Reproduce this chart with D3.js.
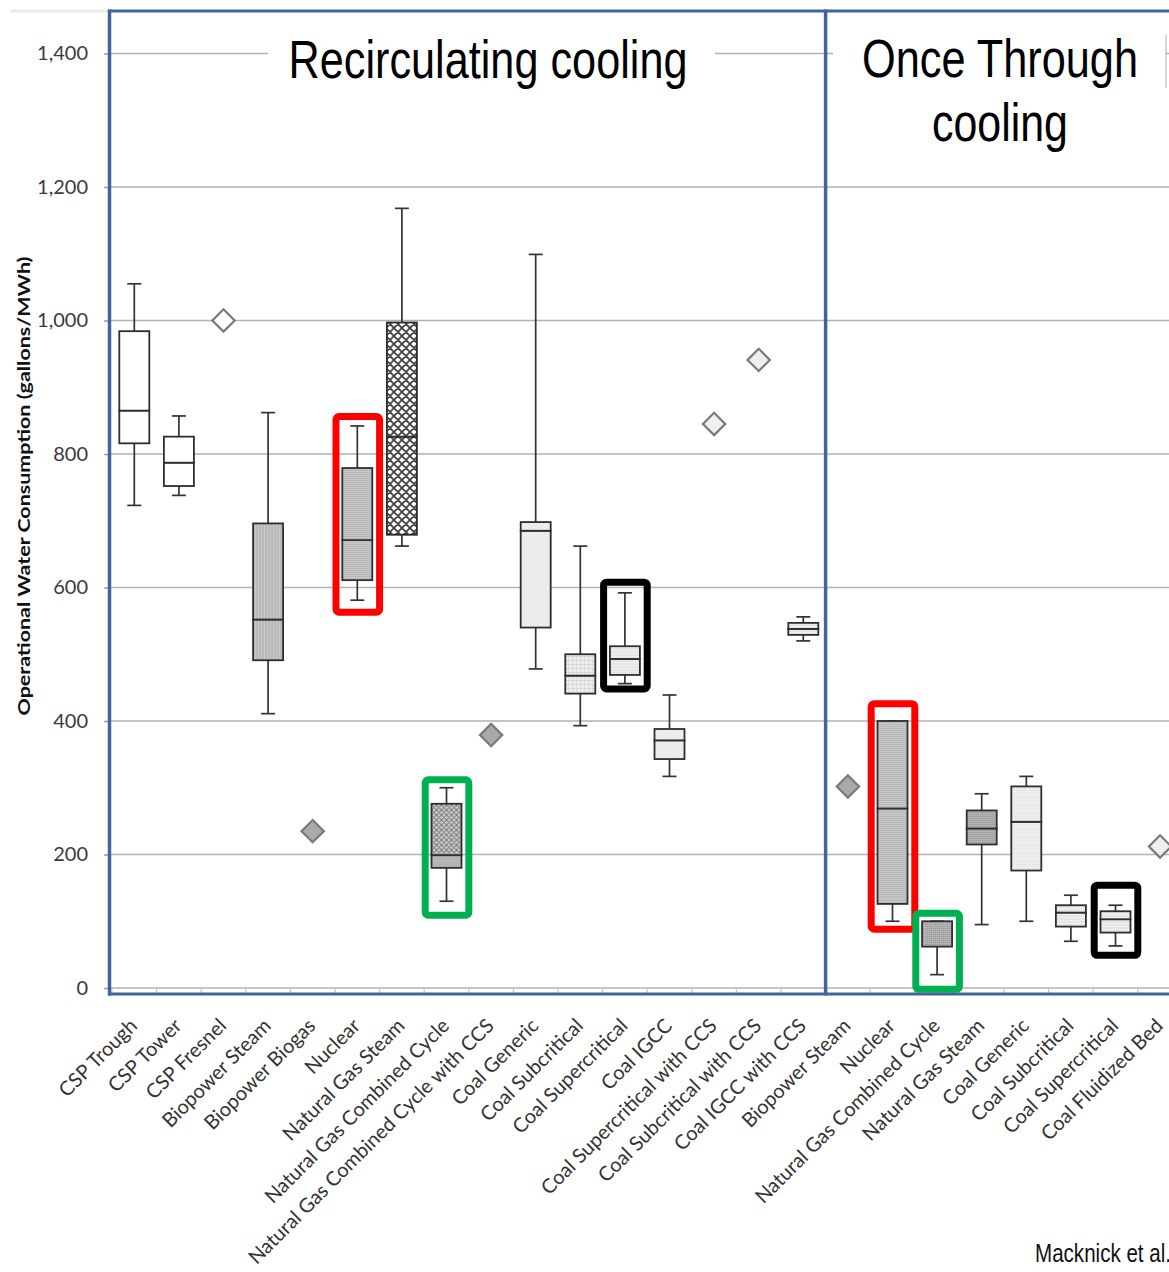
<!DOCTYPE html>
<html>
<head>
<meta charset="utf-8">
<script src="https://cdn.jsdelivr.net/npm/d3@7"></script>
<style>
body { margin: 0; background: #fff; }
svg { display: block; }
</style>
</head>
<body>
<svg id="chart" width="1169" height="1272"></svg>
<script>
// categories, left 16 are recirculating, right 8 once-through
var labels = ['CSP Trough', 'CSP Tower', 'CSP Fresnel', 'Biopower Steam', 'Biopower Biogas', 'Nuclear',
  'Natural Gas Steam', 'Natural Gas Combined Cycle', 'Natural Gas Combined Cycle with CCS', 'Coal Generic',
  'Coal Subcritical', 'Coal Supercritical', 'Coal IGCC', 'Coal Supercritical with CCS', 'Coal Subcritical with CCS',
  'Coal IGCC with CCS',
  'Biopower Steam', 'Nuclear', 'Natural Gas Combined Cycle', 'Natural Gas Steam', 'Coal Generic',
  'Coal Subcritical', 'Coal Supercritical', 'Coal Fluidized Bed'];
var recircCount = 16;

// box stats (gallons/MWh), null where only a single point is reported
var lowVals  = [723, 738, null, 411, null, 581, 662, 130, null, 478, 393, 456, 317, null, null, 520,  null, 100, 20, 95, 100, 70, 63, null];
var q1Vals   = [816, 752, null, 491, null, 611, 679, 180, null, 540, 441, 469, 343, null, null, 529,  null, 126, 62, 215, 176, 92, 83, null];
var medVals  = [865, 787, null, 552, null, 671, 826, 199, null, 685, 468, 493, 371, null, null, 538,  null, 269, 100, 239, 249, 113, 103, null];
var q3Vals   = [984, 826, null, 696, null, 779, 997, 276, null, 698, 500, 512, 388, null, null, 547,  null, 400, 100, 266, 302, 124, 115, null];
var highVals = [1055, 857, null, 862, null, 842, 1168, 300, null, 1099, 662, 592, 439, null, null, 556, null, 400, 100, 291, 317, 139, 124, null];
var pointVals = [null, null, 1000, null, 235, null, null, null, 379, null, null, null, null, 845, 941, null, 302, null, null, null, null, null, null, 212];

var yTicks = [0, 200, 400, 600, 800, 1000, 1200, 1400];

// highlighted categories: index, value range
var highlights = [
  {i: 5, lo: 563, hi: 856, color: '#ff0000'},
  {i: 7, lo: 109, hi: 312, color: '#00b050'},
  {i: 11, lo: 448, hi: 608, color: '#000000'},
  {i: 17, lo: 88, hi: 426, color: '#ff0000'},
  {i: 18, lo: -2, hi: 112, color: '#00b050'},
  {i: 22, lo: 49, hi: 154, color: '#000000'}
];

// fills (lower half, upper half) by pattern id
var lowerFill = ['white', 'white', 'white', 'vstripe', 'grey', 'dots', 'lattice', 'greySolid', 'grey', 'lightV', 'lightGrid', 'lightH', 'lightV', 'light', 'light', 'lightH',
  'grey', 'dots', 'greyDots', 'greyDots', 'lightDots', 'lightH', 'lightH', 'light'];
var upperFill = ['white', 'white', 'white', 'vstripe', 'grey', 'dots', 'lattice', 'smallLattice', 'grey', 'lightV', 'lightGrid', 'lightH', 'lightV', 'light', 'light', 'lightH',
  'grey', 'dots', 'greyDots', 'greyDots', 'lightDots', 'lightH', 'lightH', 'light'];

var svg = d3.select('#chart');
var blue = '#41659a';

var step = 44.6;
var x = d3.scaleBand().domain(d3.range(labels.length)).range([112, 112 + step * labels.length]);
var y = d3.scaleLinear().domain([0, 1400]).range([988, 53.5]);
var bw = x.bandwidth();

// patterns
var defs = svg.append('defs');
function pat(id, w, h, bg) {
  var p = defs.append('pattern').attr('id', id).attr('patternUnits', 'userSpaceOnUse').attr('width', w).attr('height', h);
  p.append('rect').attr('width', w).attr('height', h).attr('fill', bg);
  return p;
}
pat('white', 4, 4, '#ffffff');
pat('grey', 4, 4, '#a9a9a9');
pat('light', 4, 4, '#efefef');
var p = pat('vstripe', 3, 6, '#cacaca');
p.append('line').attr('x1', 1).attr('x2', 1).attr('y1', 0).attr('y2', 6).attr('stroke', '#9c9c9c').attr('stroke-width', 0.8);
p = pat('dots', 2, 2, '#c9c9c9');
p.append('rect').attr('width', 1).attr('height', 1).attr('fill', '#a4a4a4');
p = pat('greyDots', 2, 2, '#b3b3b3');
p.append('rect').attr('width', 1).attr('height', 1).attr('fill', '#969696');
p = pat('lightDots', 2, 2, '#f0f0f0');
p.append('rect').attr('width', 1).attr('height', 1).attr('fill', '#dcdcdc');
pat('greySolid', 4, 4, '#b5b5b5');
p = pat('lattice', 8, 8, '#ffffff');
p.append('path').attr('d', 'M0,0L8,8M8,0L0,8M-1,7L1,9M7,-1L9,1').attr('stroke', '#3d3d3d').attr('stroke-width', 1.7);
p = pat('smallLattice', 5, 5, '#c4c4c4');
p.append('path').attr('d', 'M0,0L5,5M5,0L0,5').attr('stroke', '#6d6d6d').attr('stroke-width', 0.9);
p = pat('lightV', 3, 6, '#f1f1f1');
p.append('line').attr('x1', 1).attr('x2', 1).attr('y1', 0).attr('y2', 6).attr('stroke', '#dedede').attr('stroke-width', 0.8);
p = pat('lightGrid', 4, 4, '#efefef');
p.append('path').attr('d', 'M0,0.5H4M0.5,0V4').attr('stroke', '#d3d3d3').attr('stroke-width', 0.8);
p = pat('lightH', 6, 3, '#f0f0f0');
p.append('line').attr('x1', 0).attr('x2', 6).attr('y1', 1).attr('y2', 1).attr('stroke', '#d6d6d6').attr('stroke-width', 0.8);

// faint edge at top left of the picture
svg.append('line').attr('x1', 10).attr('x2', 108).attr('y1', 11).attr('y2', 11).attr('stroke', '#ececec').attr('stroke-width', 3);

// gridlines
svg.append('g').selectAll('line').data(yTicks).join('line')
  .attr('x1', 110).attr('x2', 1169)
  .attr('y1', function (d) { return y(d); }).attr('y2', function (d) { return y(d); })
  .attr('stroke', '#b2b2b2').attr('stroke-width', 1.5);

// y axis
var yAxis = svg.append('g').attr('transform', 'translate(110,0)')
  .call(d3.axisLeft(y).tickValues(yTicks).tickFormat(d3.format(',')).tickSize(6).tickPadding(16));
yAxis.select('.domain').remove();
yAxis.selectAll('.tick line').attr('stroke', '#9a9a9a').attr('stroke-width', 1.5);
yAxis.selectAll('.tick text').attr('font-family', 'Lato, sans-serif').attr('font-size', 20).attr('fill', '#3a3a3a');

svg.append('text')
  .attr('transform', 'translate(30,' + 486 + ') rotate(-90)')
  .attr('text-anchor', 'middle')
  .attr('font-family', 'Lato, sans-serif').attr('font-weight', 'bold').attr('font-size', 17)
  .attr('textLength', 459).attr('lengthAdjust', 'spacingAndGlyphs')
  .attr('fill', '#111')
  .text('Operational Water Consumption (gallons/MWh)');

// small ticks along the bottom between 0 line and axis
svg.append('g').selectAll('line').data(d3.range(labels.length + 1)).join('line')
  .attr('x1', function (d) { return 112 + d * step; }).attr('x2', function (d) { return 112 + d * step; })
  .attr('y1', y(0)).attr('y2', 994)
  .attr('stroke', '#c4c4c4').attr('stroke-width', 1.2);

// section titles on white boxes
svg.append('rect').attr('x', 268).attr('y', 24).attr('width', 447).attr('height', 80).attr('fill', '#fff');
svg.append('rect').attr('x', 833).attr('y', 24).attr('width', 332).attr('height', 140).attr('fill', '#fff');
svg.append('line').attr('x1', 1166).attr('x2', 1166).attr('y1', 35).attr('y2', 88).attr('stroke', '#c8c8c8').attr('stroke-width', 1.5);

// condensed look: squeeze a regular sans to the narrow widths
var sans = '"Liberation Sans", Arial, sans-serif';
function title(t, cx, by, len) {
  svg.append('text').attr('x', cx).attr('y', by).attr('text-anchor', 'middle')
    .attr('font-family', sans).attr('font-size', 53).attr('fill', '#000')
    .attr('textLength', len).attr('lengthAdjust', 'spacingAndGlyphs')
    .text(t);
}
title('Recirculating cooling', 488, 78, 399);
title('Once Through', 1000, 77, 276);
title('cooling', 1000, 141, 136);

// box plots
var idx = d3.range(labels.length).filter(function (i) { return q1Vals[i] != null; });
var boxW = 30, capW = 14;
var boxes = svg.append('g').selectAll('g').data(idx).join('g')
  .attr('transform', function (i) { return 'translate(' + (x(i) + bw / 2) + ',0)'; });

boxes.append('line').attr('y1', function (i) { return y(highVals[i]); }).attr('y2', function (i) { return y(q3Vals[i]); })
  .attr('stroke', '#333').attr('stroke-width', 1.7);
boxes.append('line').attr('y1', function (i) { return y(q1Vals[i]); }).attr('y2', function (i) { return y(lowVals[i]); })
  .attr('stroke', '#333').attr('stroke-width', 1.7);
boxes.append('line').attr('x1', -capW / 2).attr('x2', capW / 2)
  .attr('y1', function (i) { return y(highVals[i]); }).attr('y2', function (i) { return y(highVals[i]); })
  .attr('stroke', '#333').attr('stroke-width', 1.7);
boxes.append('line').attr('x1', -capW / 2).attr('x2', capW / 2)
  .attr('y1', function (i) { return y(lowVals[i]); }).attr('y2', function (i) { return y(lowVals[i]); })
  .attr('stroke', '#333').attr('stroke-width', 1.7);
// lower half q1 -> median, upper half median -> q3
boxes.append('rect').attr('x', -boxW / 2).attr('width', boxW)
  .attr('y', function (i) { return y(medVals[i]); })
  .attr('height', function (i) { return y(q1Vals[i]) - y(medVals[i]); })
  .attr('fill', function (i) { return 'url(#' + lowerFill[i] + ')'; })
  .attr('stroke', '#2e2e2e').attr('stroke-width', 1.8);
boxes.append('rect').attr('x', -boxW / 2).attr('width', boxW)
  .attr('y', function (i) { return y(q3Vals[i]); })
  .attr('height', function (i) { return y(medVals[i]) - y(q3Vals[i]); })
  .attr('fill', function (i) { return 'url(#' + upperFill[i] + ')'; })
  .attr('stroke', '#2e2e2e').attr('stroke-width', 1.8);

// single points
var pts = d3.range(labels.length).filter(function (i) { return pointVals[i] != null; });
var diamond = d3.symbol().type(d3.symbolSquare).size(250);
svg.append('g').selectAll('path').data(pts).join('path')
  .attr('d', diamond)
  .attr('transform', function (i) { return 'translate(' + (x(i) + bw / 2) + ',' + y(pointVals[i]) + ') rotate(45)'; })
  .attr('fill', function (i) { return 'url(#' + lowerFill[i] + ')'; })
  .attr('stroke', '#7a7a7a').attr('stroke-width', 2.2);

// highlight frames
svg.append('g').selectAll('rect').data(highlights).join('rect')
  .attr('x', function (d) { return x(d.i) + 1; })
  .attr('width', bw - 1)
  .attr('y', function (d) { return y(d.hi); })
  .attr('height', function (d) { return y(d.lo) - y(d.hi); })
  .attr('rx', 3)
  .attr('fill', 'none')
  .attr('stroke', function (d) { return d.color; })
  .attr('stroke-width', 7);

// frame lines
svg.append('line').attr('x1', 108).attr('x2', 1169).attr('y1', 11).attr('y2', 11).attr('stroke', blue).attr('stroke-width', 3);
svg.append('line').attr('x1', 109.5).attr('x2', 109.5).attr('y1', 9.5).attr('y2', 995.5).attr('stroke', blue).attr('stroke-width', 3.5);
svg.append('line').attr('x1', x(recircCount)).attr('x2', x(recircCount)).attr('y1', 9.5).attr('y2', 995.5).attr('stroke', blue).attr('stroke-width', 3.5);
svg.append('line').attr('x1', 108).attr('x2', 1169).attr('y1', 994).attr('y2', 994).attr('stroke', blue).attr('stroke-width', 3);

// category labels
svg.append('g').selectAll('text').data(d3.range(labels.length)).join('text')
  .attr('transform', function (i) { return 'translate(' + (x(i) + bw / 2 + 4) + ',1027) rotate(-45)'; })
  .attr('text-anchor', 'end')
  .attr('font-family', 'Lato, sans-serif').attr('font-size', 20).attr('fill', '#333')
  .text(function (i) { return labels[i]; });

svg.append('text').attr('x', 1035).attr('y', 1262)
  .attr('font-family', sans).attr('font-size', 25).attr('fill', '#111')
  .attr('textLength', 136).attr('lengthAdjust', 'spacingAndGlyphs')
  .text('Macknick et al.');
</script>
</body>
</html>
